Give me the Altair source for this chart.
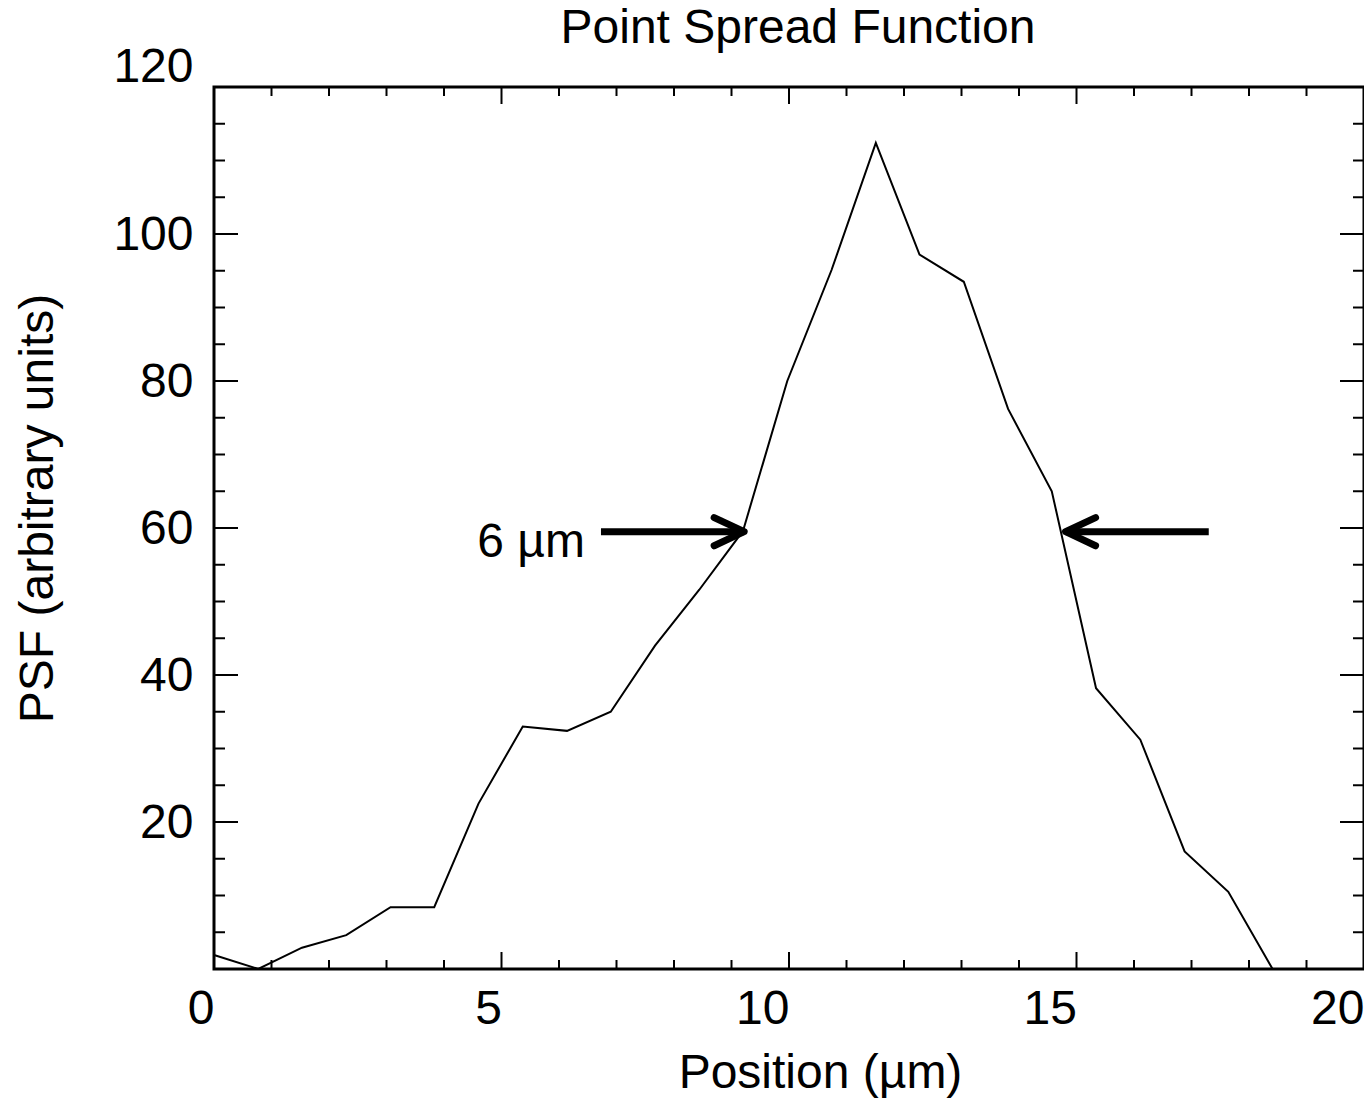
import altair as alt
import pandas as pd

# ---------------- data ----------------
position_um = [0.00, 0.77, 1.53, 2.30, 3.07, 3.83, 4.60, 5.37, 6.14, 6.90,
               7.67, 8.44, 9.20, 9.97, 10.74, 11.51, 12.27, 13.04, 13.81,
               14.57, 15.34, 16.11, 16.88, 17.64, 18.41, 19.18, 19.94]
psf = [1.9, 0.0, 2.9, 4.6, 8.4, 8.4, 22.5, 33.0, 32.4, 35.0,
       44.0, 51.6, 59.6, 80.0, 95.1, 112.4, 97.2, 93.5, 76.2,
       65.0, 38.2, 31.2, 16.0, 10.5, 0.0, 0.0, 0.0]

x_major_ticks = [0, 5, 10, 15, 20]
x_minor_ticks = [1, 2, 3, 4, 6, 7, 8, 9, 11, 12, 13, 14, 16, 17, 18, 19]
y_major_ticks = [0, 20, 40, 60, 80, 100, 120]
y_minor_ticks = [5, 10, 15, 25, 30, 35, 45, 50, 55, 65, 70, 75,
                 85, 90, 95, 105, 110, 115]
y_tick_labels = [20, 40, 60, 80, 100, 120]

# FWHM arrows: [left arrow, right arrow]
arrow_y = [59.5, 59.5]
arrow_tail_x = [6.73, 17.30]
arrow_tip_x = [9.22, 14.81]
annotation_text = ["6 µm"]
annotation_x = [6.45]
annotation_y = [56.1]

# ---------------- layout / style ----------------
W, H = 1150, 882
FONT = "Liberation Sans"
FS = 48

xscale = alt.Scale(domain=[0, 20], nice=False, zero=False)
yscale = alt.Scale(domain=[0, 120], nice=False, zero=False)

xaxis = alt.Axis(values=x_major_ticks, title="Position (µm)", format="d",
                 labelAlign="right", labelFlush=False, labelOverlap=False,
                 labelPadding=16, ticks=False, tickSize=0, domain=False,
                 grid=False, titleX=606, titleY=118,
                 titleBaseline="alphabetic", titleAlign="center")
yaxis = alt.Axis(values=y_tick_labels, title="PSF (arbitrary units)",
                 format="d", labelFlush=False, labelOverlap=False,
                 labelPadding=21, labelBaseline="middle",
                 labelOffset={"condition": {"test": "datum.value === 120",
                                            "value": -20},
                              "value": 1},
                 ticks=False, tickSize=0, domain=False, grid=False,
                 titleX=-162, titleY=421, titleAngle=270,
                 titleBaseline="alphabetic", titleAlign="center")


def X(field="position"):
    return alt.X(f"{field}:Q", scale=xscale, axis=xaxis)


def Y(field="psf"):
    return alt.Y(f"{field}:Q", scale=yscale, axis=yaxis)


curve_df = pd.DataFrame({"position": position_um, "psf": psf})
xmaj_df = pd.DataFrame({"position": x_major_ticks})
xmin_df = pd.DataFrame({"position": x_minor_ticks})
ymaj_df = pd.DataFrame({"psf": y_major_ticks})
ymin_df = pd.DataFrame({"psf": y_minor_ticks})
arrow_df = pd.DataFrame({"position": arrow_tail_x, "tip": arrow_tip_x,
                         "psf": arrow_y})
head_r_df = pd.DataFrame({"position": arrow_tip_x[:1], "psf": arrow_y[:1]})
head_l_df = pd.DataFrame({"position": arrow_tip_x[1:], "psf": arrow_y[1:]})
label_df = pd.DataFrame({"position": annotation_x, "psf": annotation_y,
                         "label": annotation_text})

tick = dict(color="black", strokeWidth=2)

layers = [
    # inward x ticks, bottom & top
    alt.Chart(xmaj_df).mark_rule(**tick).encode(x=X(), y=alt.value(H), y2=alt.value(H - 17)),
    alt.Chart(xmaj_df).mark_rule(**tick).encode(x=X(), y=alt.value(0), y2=alt.value(17)),
    alt.Chart(xmin_df).mark_rule(**tick).encode(x=X(), y=alt.value(H), y2=alt.value(H - 9)),
    alt.Chart(xmin_df).mark_rule(**tick).encode(x=X(), y=alt.value(0), y2=alt.value(9)),
    # inward y ticks, left & right
    alt.Chart(ymaj_df).mark_rule(**tick).encode(y=Y(), x=alt.value(0), x2=alt.value(24)),
    alt.Chart(ymaj_df).mark_rule(**tick).encode(y=Y(), x=alt.value(W), x2=alt.value(W - 24)),
    alt.Chart(ymin_df).mark_rule(**tick).encode(y=Y(), x=alt.value(0), x2=alt.value(11)),
    alt.Chart(ymin_df).mark_rule(**tick).encode(y=Y(), x=alt.value(W), x2=alt.value(W - 11)),
    # the PSF curve
    alt.Chart(curve_df).mark_line(color="black", strokeWidth=2).encode(x=X(), y=Y()),
    # arrows
    alt.Chart(arrow_df).mark_rule(color="black", strokeWidth=7, strokeCap="butt").encode(
        x=X(), x2="tip:Q", y=Y()),
    alt.Chart(head_r_df).mark_point(shape="M -1 -0.47 L 0 0 L -1 0.47", size=3600,
                                    filled=False, strokeWidth=7, color="black",
                                    opacity=1, strokeCap="round", strokeJoin="round").encode(
        x=X(), y=Y()),
    alt.Chart(head_l_df).mark_point(shape="M 1 -0.47 L 0 0 L 1 0.47", size=3600,
                                    filled=False, strokeWidth=7, color="black",
                                    opacity=1, strokeCap="round", strokeJoin="round").encode(
        x=X(), y=Y()),
    alt.Chart(label_df).mark_text(align="right", baseline="alphabetic", font=FONT,
                                  fontSize=FS, color="black").encode(
        x=X(), y=Y(), text="label:N"),
]

chart = alt.layer(*layers).properties(
    width=W,
    height=H,
    autosize=alt.AutoSizeParams(type="none"),
    padding={"left": 214, "top": 87, "right": 0, "bottom": 133},
    background="white",
    title=alt.TitleParams(text="Point Spread Function", anchor="middle",
                          frame="group", dx=9, baseline="alphabetic",
                          offset=-48, font=FONT, fontSize=FS,
                          fontWeight="normal", color="black"),
).configure_view(
    stroke="black", strokeWidth=3
).configure_axis(
    labelFont=FONT, titleFont=FONT, labelFontSize=FS, titleFontSize=FS,
    labelColor="black", titleColor="black", titleFontWeight="normal",
    labelFontWeight="normal"
)

chart.save("out.html", embed_options={"renderer": "svg", "actions": False})
